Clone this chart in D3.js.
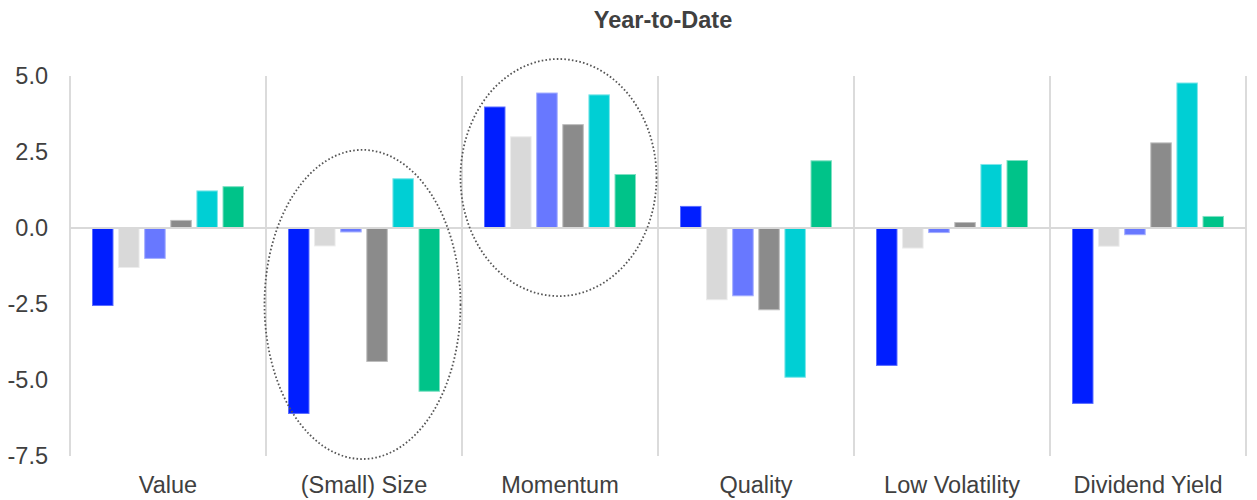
<!DOCTYPE html>
<html>
<head>
<meta charset="utf-8">
<script src="https://cdn.jsdelivr.net/npm/d3@7"></script>
<style>
  html, body { margin: 0; padding: 0; background: #ffffff; }
  svg { display: block; font-family: "Liberation Sans", Arial, sans-serif; }
</style>
</head>
<body>
<svg id="chart" width="1257" height="500"></svg>
<script>
// ---- data ----
const categories = ["Value", "(Small) Size", "Momentum", "Quality", "Low Volatility", "Dividend Yield"];
const seriesNames = ["S1", "S2", "S3", "S4", "S5", "S6"];
const s1 = [-2.55, -6.10, 3.98, 0.71, -4.52, -5.77];
const s2 = [-1.30, -0.59, 3.00, -2.36, -0.66, -0.60];
const s3 = [-1.00, -0.13, 4.44, -2.23, -0.15, -0.22];
const s4 = [0.25, -4.39, 3.40, -2.69, 0.18, 2.80];
const s5 = [1.22, 1.62, 4.38, -4.91, 2.09, 4.77];
const s6 = [1.36, -5.37, 1.76, 2.21, 2.22, 0.38];
const seriesValues = [s1, s2, s3, s4, s5, s6];
const yTicks = [5.0, 2.5, 0.0, -2.5, -5.0, -7.5];
const title = "Year-to-Date";
// highlight ellipses: category, top value, bottom value
const highlightCats = ["(Small) Size", "Momentum"];
const highlightTop = [2.57, 5.56];
const highlightBottom = [-7.6, -2.24];

// ---- styles ----
const colors = ["#001EFF", "#D9D9D9", "#6878FF", "#8B8B8B", "#00CFD4", "#00C389"];
const strokes = ["#5a6cff", "#ececec", "#a3adff", "#bdbdbd", "#7fe6e9", "#7fe0c3"];
const textColor = "#404040";
const fontSize = 23.5;

const svg = d3.select("#chart");
const plotLeft = 70, plotRight = 1246, plotTop = 76, plotBottom = 456;

const x0 = d3.scaleBand().domain(categories).range([plotLeft, plotRight]).padding(0);
const x1 = d3.scaleBand().domain(seriesNames)
  .range([22.5, x0.bandwidth() - 22.5]).paddingInner(0.215).paddingOuter(0);
const y = d3.scaleLinear().domain([-7.5, 5]).range([plotBottom, plotTop]);

// title
svg.append("text")
  .attr("x", 663).attr("y", 28)
  .attr("text-anchor", "middle")
  .attr("font-weight", "bold")
  .attr("font-size", 23.5)
  .attr("fill", textColor)
  .text(title);

// vertical separators
const seps = categories.map(c => x0(c)).concat([plotRight]);
svg.append("g").selectAll("line").data(seps).join("line")
  .attr("x1", d => d).attr("x2", d => d)
  .attr("y1", plotTop).attr("y2", plotBottom)
  .attr("stroke", "#cfcfcf").attr("stroke-width", 1.5);

// y axis labels
const yAxis = d3.axisLeft(y).tickValues(yTicks).tickFormat(d => d.toFixed(1)).tickSize(0).tickPadding(0);
const yg = svg.append("g").attr("transform", `translate(${plotLeft - 22},0)`).call(yAxis);
yg.select(".domain").remove();
yg.selectAll("text")
  .attr("font-size", fontSize)
  .attr("fill", textColor)
  .attr("font-family", "Liberation Sans, Arial, sans-serif");

// bars
const barData = [];
categories.forEach((c, i) => {
  seriesNames.forEach((s, j) => {
    barData.push({cat: c, ser: s, j: j, v: seriesValues[j][i]});
  });
});
svg.append("g").selectAll("rect").data(barData).join("rect")
  .attr("x", d => x0(d.cat) + x1(d.ser))
  .attr("width", x1.bandwidth())
  .attr("y", d => y(Math.max(0, d.v)))
  .attr("height", d => Math.abs(y(d.v) - y(0)))
  .attr("fill", d => colors[d.j])
  .attr("stroke", d => strokes[d.j])
  .attr("stroke-width", 1);

// zero line
svg.append("line")
  .attr("x1", plotLeft).attr("x2", plotRight)
  .attr("y1", y(0)).attr("y2", y(0))
  .attr("stroke", "#d9d9d9").attr("stroke-width", 2);

// x labels
svg.append("g").selectAll("text").data(categories).join("text")
  .attr("x", d => x0(d) + x0.bandwidth() / 2)
  .attr("y", 493)
  .attr("text-anchor", "middle")
  .attr("font-size", fontSize)
  .attr("fill", textColor)
  .text(d => d);

// highlight ellipses
svg.append("g").selectAll("ellipse").data(highlightCats).join("ellipse")
  .attr("cx", d => x0(d) + x0.bandwidth() / 2 - 1.5)
  .attr("cy", (d, i) => (y(highlightTop[i]) + y(highlightBottom[i])) / 2)
  .attr("rx", x0.bandwidth() / 2)
  .attr("ry", (d, i) => (y(highlightBottom[i]) - y(highlightTop[i])) / 2)
  .attr("fill", "none")
  .attr("stroke", "#555555")
  .attr("stroke-width", 1.8)
  .attr("stroke-dasharray", "1.6,2.2");
</script>
</body>
</html>
